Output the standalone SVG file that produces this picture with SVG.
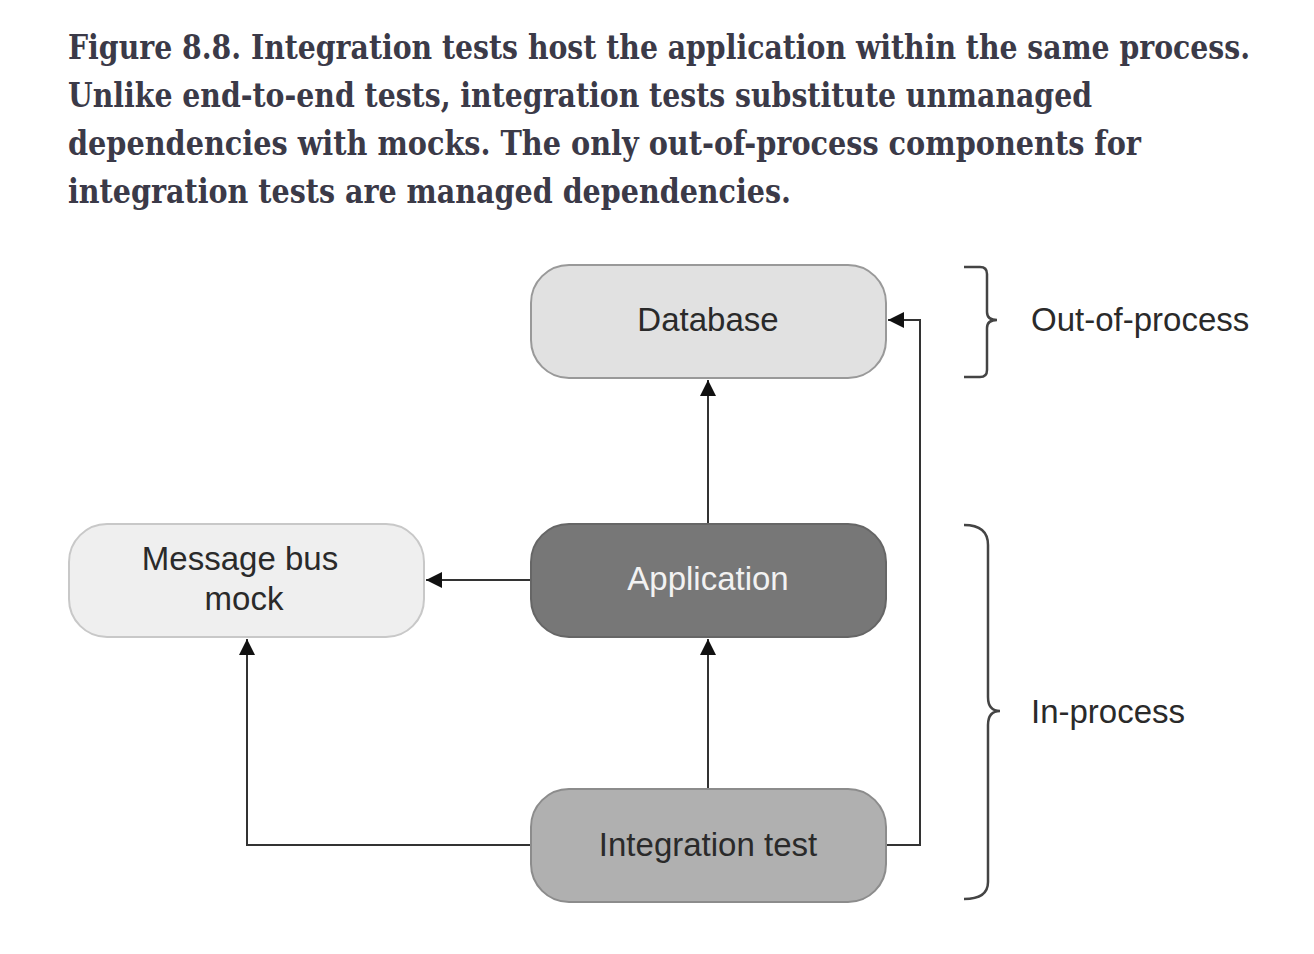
<svg xmlns="http://www.w3.org/2000/svg" width="1314" height="954" viewBox="0 0 1314 954">
<style>
.cap{font-family:"DejaVu Serif Condensed","DejaVu Serif","Liberation Serif",serif;font-weight:bold;font-size:33px;fill:#3b3a48}
.lbl{font-family:"Liberation Sans",Arial,sans-serif;font-size:33px;fill:#2a2a2a;text-anchor:middle}
.side{font-family:"Liberation Sans",Arial,sans-serif;font-size:33px;fill:#2a2a2a}
.conn{fill:none;stroke:#333;stroke-width:2}
.brace{fill:none;stroke:#444;stroke-width:2.5}
</style>
<defs>
<marker id="ah" viewBox="0 0 10 10" refX="10" refY="5" markerWidth="16" markerHeight="16" markerUnits="userSpaceOnUse" orient="auto">
<path d="M0,0 L10,5 L0,10 z" fill="#111"/>
</marker>
</defs>
<g id="caption">
<text class="cap" x="68" y="59" textLength="1182" lengthAdjust="spacingAndGlyphs">Figure 8.8. Integration tests host the application within the same process.</text>
<text class="cap" x="68" y="107" textLength="1024" lengthAdjust="spacingAndGlyphs">Unlike end-to-end tests, integration tests substitute unmanaged</text>
<text class="cap" x="68" y="155" textLength="1073" lengthAdjust="spacingAndGlyphs">dependencies with mocks. The only out-of-process components for</text>
<text class="cap" x="68" y="203" textLength="723" lengthAdjust="spacingAndGlyphs">integration tests are managed dependencies.</text>
</g>
<g id="connectors">
<path class="conn" d="M708,524 V380" marker-end="url(#ah)"/>
<path class="conn" d="M531,580 H426" marker-end="url(#ah)"/>
<path class="conn" d="M708,789 V639" marker-end="url(#ah)"/>
<path class="conn" d="M531,845 H247 V639" marker-end="url(#ah)"/>
<path class="conn" d="M886,845 H920 V320 H888" marker-end="url(#ah)"/>
</g>
<g id="database">
<rect x="531" y="265" width="355" height="113" rx="38" fill="#e1e1e1" stroke="#999" stroke-width="2"/>
<text class="lbl" x="708" y="331">Database</text>
</g>
<g id="message-bus-mock">
<rect x="69" y="524" width="355" height="113" rx="38" fill="#efefef" stroke="#c8c8c8" stroke-width="2"/>
<text class="lbl" x="240" y="570">Message bus</text>
<text class="lbl" x="244" y="610">mock</text>
</g>
<g id="application">
<rect x="531" y="524" width="355" height="113" rx="38" fill="#777" stroke="#666" stroke-width="2"/>
<text class="lbl" x="708" y="590" style="fill:#f2f2f2">Application</text>
</g>
<g id="integration-test">
<rect x="531" y="789" width="355" height="113" rx="38" fill="#b0b0b0" stroke="#8c8c8c" stroke-width="2"/>
<text class="lbl" x="708" y="856">Integration test</text>
</g>
<g id="out-of-process">
<path class="brace" d="M964,267 H980 Q987,267 987,274 V312 Q987,320 997,320 Q987,320 987,328 V370 Q987,377 980,377 H964"/>
<text class="side" x="1031" y="331">Out-of-process</text>
</g>
<g id="in-process">
<path class="brace" d="M964,525 Q988,525 988,545 V697 Q988,711 1000,711 Q988,711 988,725 V882 Q988,899 964,899"/>
<text class="side" x="1031" y="723">In-process</text>
</g>
</svg>
